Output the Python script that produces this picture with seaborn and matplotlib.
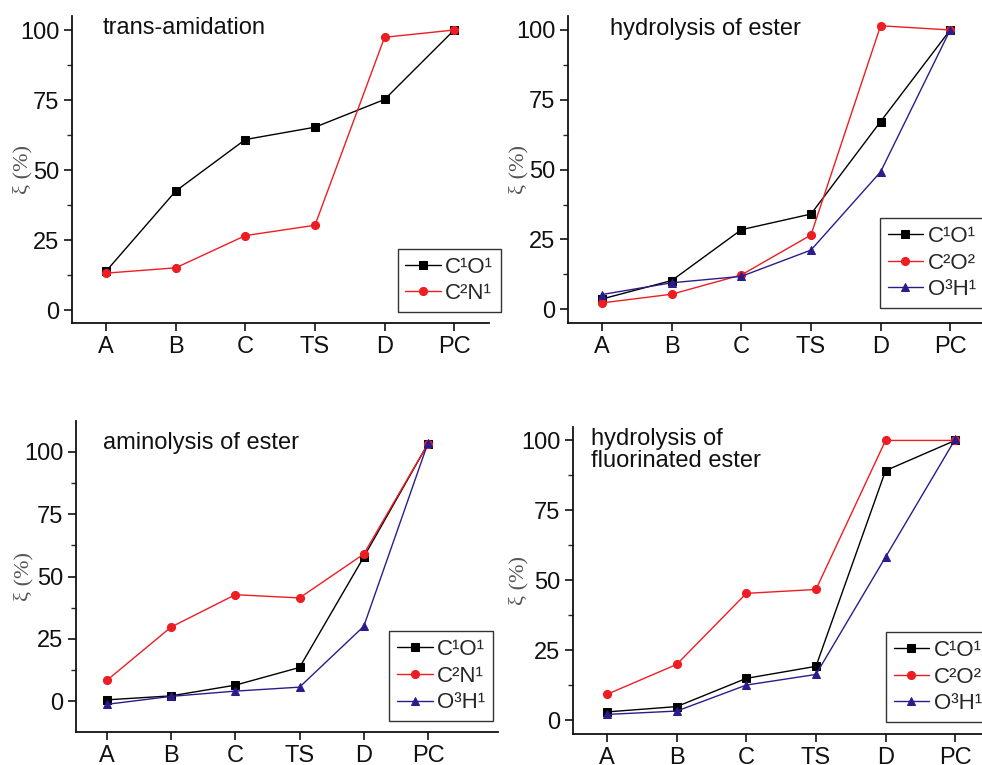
import matplotlib
matplotlib.use("Agg")
import matplotlib.pyplot as plt
import seaborn as sns
import pandas as pd
from matplotlib.ticker import MultipleLocator

# ---------------- data ----------------
stages = ["A", "B", "C", "TS", "D", "PC"]

trans_C1O1 = [13.9, 42.5, 60.9, 65.3, 75.2, 100.0]
trans_C2N1 = [13.2, 15.1, 26.6, 30.3, 97.4, 100.0]

hyd_C1O1 = [3.7, 10.3, 28.5, 34.1, 67.2, 100.0]
hyd_C2O2 = [2.3, 5.4, 12.3, 26.6, 101.5, 100.0]
hyd_O3H1 = [5.3, 9.5, 11.8, 21.2, 49.2, 100.0]

amin_C1O1 = [0.5, 2.1, 6.4, 13.5, 57.8, 103.3]
amin_C2N1 = [8.3, 29.7, 42.7, 41.4, 59.0, 103.3]
amin_O3H1 = [-1.3, 1.9, 4.0, 5.6, 30.0, 103.6]

fhyd_C1O1 = [2.9, 4.8, 14.9, 19.2, 89.2, 100.0]
fhyd_C2O2 = [9.2, 19.9, 45.3, 46.7, 100.0, 100.0]
fhyd_O3H1 = [2.0, 3.2, 12.5, 16.3, 58.3, 100.4]

titles = ["trans-amidation", "hydrolysis of ester", "aminolysis of ester",
          "hydrolysis of\nfluorinated ester"]

# ---------------- style ----------------
sns.set_theme(style="ticks")
plt.rcParams["font.family"] = ["Liberation Sans", "DejaVu Sans"]

BLACK = "#000000"
RED = "#ee1d23"
BLUE = "#2b1c8c"

W, H = 982, 765
fig = plt.figure(figsize=(W / 100, H / 100), dpi=100)
fig.patch.set_facecolor("white")


def add_ax(left, top, right, bottom):
    return fig.add_axes([left / W, 1 - bottom / H, (right - left) / W, (bottom - top) / H])


panels = [
    dict(box=(72, 16, 489, 323), xlim=(-0.49, 5.5), ylim=(-4.6, 105.0), labx=32,
         series=[("C¹O¹", trans_C1O1, BLACK, "s"), ("C²N¹", trans_C2N1, RED, "o")],
         title_xy=(0.074, 0.998), leg=dict(loc="lower right", anchor=(1.029, 0.036))),
    dict(box=(568, 16, 985, 323), xlim=(-0.49, 5.5), ylim=(-4.9, 105.0), labx=528,
         series=[("C¹O¹", hyd_C1O1, BLACK, "s"), ("C²O²", hyd_C2O2, RED, "o"),
                 ("O³H¹", hyd_O3H1, BLUE, "^")],
         title_xy=(0.10, 0.995), leg=dict(loc="lower left", anchor=(0.748, 0.049))),
    dict(box=(76, 421, 498, 732), xlim=(-0.48, 6.09), ylim=(-12.4, 112.4), labx=33,
         series=[("C¹O¹", amin_C1O1, BLACK, "s"), ("C²N¹", amin_C2N1, RED, "o"),
                 ("O³H¹", amin_O3H1, BLUE, "^")],
         title_xy=(0.064, 0.965), leg=dict(loc="lower right", anchor=(0.988, 0.035))),
    dict(box=(573, 427, 990, 734), xlim=(-0.49, 5.5), ylim=(-5.0, 104.8), labx=528,
         series=[("C¹O¹", fhyd_C1O1, BLACK, "s"), ("C²O²", fhyd_C2O2, RED, "o"),
                 ("O³H¹", fhyd_O3H1, BLUE, "^")],
         title_xy=(0.043, 0.998), leg=dict(loc="lower left", anchor=(0.75, 0.039))),
]

for p, title in zip(panels, titles):
    ax = add_ax(*p["box"])
    ax.set_facecolor("white")
    for name, vals, col, mk in p["series"]:
        df = pd.DataFrame({"pos": range(len(stages)), "val": vals})
        sns.lineplot(data=df, x="pos", y="val", ax=ax, color=col, marker=mk,
                     markersize=5.8, markeredgecolor=col, linewidth=1.0,
                     label=name, sort=False)
    ax.set_xlim(*p["xlim"])
    ax.set_ylim(*p["ylim"])
    ax.set_xticks(range(len(stages)))
    ax.set_xticklabels(stages)
    ax.yaxis.set_major_locator(MultipleLocator(25))
    ax.yaxis.set_minor_locator(MultipleLocator(12.5))
    ax.tick_params(axis="both", which="major", direction="out", length=6, width=1.2,
                   labelsize=17, colors="#111111", pad=3)
    ax.tick_params(axis="y", which="minor", direction="out", length=3.5, width=1.0)
    for s in ["top", "right"]:
        ax.spines[s].set_visible(False)
    for s in ["left", "bottom"]:
        ax.spines[s].set_linewidth(1.3)
        ax.spines[s].set_color("#111111")
    ax.set_xlabel("")
    ax.set_ylabel("ξ (%)", fontsize=16, color="#555555",
                  family=["Liberation Serif", "DejaVu Serif"])
    left = p["box"][0]
    ax.yaxis.set_label_coords((p["labx"] - left) / (p["box"][2] - left), 0.5)
    ax.text(p["title_xy"][0], p["title_xy"][1], title, transform=ax.transAxes,
            ha="left", va="top", fontsize=17, color="#111111", linespacing=1.05)
    leg = ax.legend(loc=p["leg"]["loc"], bbox_to_anchor=p["leg"]["anchor"],
                    fontsize=16, frameon=True, fancybox=False, handlelength=1.6,
                    handletextpad=0.2, labelspacing=0.25, borderpad=0.35,
                    borderaxespad=0.0, markerscale=1.0)
    leg.get_frame().set_edgecolor("#333333")
    leg.get_frame().set_linewidth(1.0)
    leg.get_frame().set_facecolor("white")
    leg.get_frame().set_alpha(1.0)

fig.savefig("out.png", dpi=100)
